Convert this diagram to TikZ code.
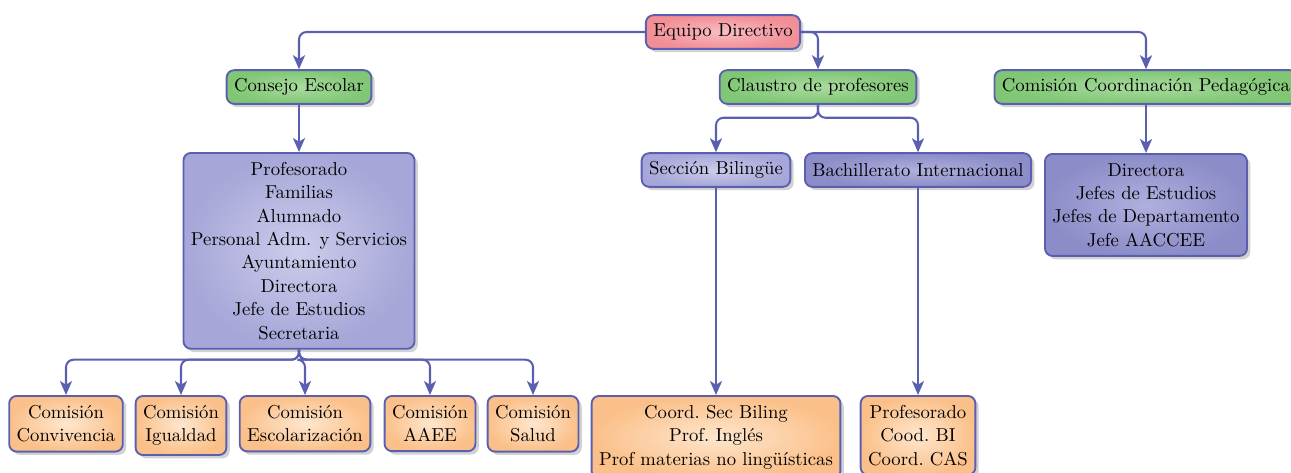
\documentclass[tikz,border=0pt]{standalone}
\usetikzlibrary{arrows.meta,shadows}
\definecolor{edgeblue}{HTML}{5B5FB0}
\definecolor{redout}{HTML}{F28E96}
\definecolor{redin}{HTML}{F9BEC2}
\definecolor{greenout}{HTML}{80C674}
\definecolor{greenin}{HTML}{A9DCA0}
\definecolor{purpout}{HTML}{A6A6D8}
\definecolor{purpin}{HTML}{CCCCEC}
\definecolor{darkout}{HTML}{8C8CC8}
\definecolor{darkin}{HTML}{B0B0DE}
\definecolor{orangeout}{HTML}{FBC089}
\definecolor{orangein}{HTML}{FEE6CE}
\begin{document}
\begin{tikzpicture}[x=0.535pt,y=-0.535pt,
  box/.style={draw=edgeblue, line width=1pt, rounded corners=4pt, inner xsep=4pt, inner ysep=5pt,
    align=center, font=\fontsize{10}{12.5}\selectfont,
    drop shadow={shadow xshift=1.8pt, shadow yshift=-1.8pt, opacity=0.25, fill=black!70}},
  oneline/.style={minimum height=18pt, inner ysep=4pt},
  redbox/.style={box, oneline, shading=radial, inner color=redin, outer color=redout},
  greenbox/.style={box, oneline, shading=radial, inner color=greenin, outer color=greenout},
  purpbox/.style={box, shading=radial, inner color=purpin, outer color=purpout},
  darkbox/.style={box, shading=radial, inner color=darkin, outer color=darkout},
  orangebox/.style={box, shading=radial, inner color=orangein, outer color=orangeout},
  conn/.style={draw=edgeblue, line width=1.1pt, rounded corners=4pt,
    -{Stealth[length=7.5pt,width=6.5pt,inset=2pt]}}]
\useasboundingbox (0,0) rectangle (1291,472);

\node[redbox] (eq) at (723,32) {Equipo Directivo};
\node[greenbox] (ce) at (299,87) {Consejo Escolar};
\node[greenbox] (cl) at (818,87) {Claustro de profesores};
\node[greenbox] (ccp) at (1146,87) {Comisión Coordinación Pedagógica};

\node[purpbox, anchor=north] (mem) at (299,152) {Profesorado\\Familias\\Alumnado\\Personal Adm. y Servicios\\Ayuntamiento\\Directora\\Jefe de Estudios\\Secretaria};
\node[purpbox, oneline] (sb) at (716,170) {Sección Bilingüe};
\node[darkbox, oneline] (bi) at (918,170) {Bachillerato Internacional};
\node[darkbox, anchor=north] (dir) at (1146,153) {Directora\\Jefes de Estudios\\Jefes de Departamento\\Jefe AACCEE};

\node[orangebox, anchor=north] (c1) at (66,395) {Comisión\\Convivencia};
\node[orangebox, anchor=north] (c2) at (181,395) {Comisión\\Igualdad};
\node[orangebox, anchor=north] (c3) at (305,395) {Comisión\\Escolarización};
\node[orangebox, anchor=north] (c4) at (430,395) {Comisión\\AAEE};
\node[orangebox, anchor=north] (c5) at (533,395) {Comisión\\Salud};
\node[orangebox, anchor=north] (sbm) at (716,395) {Coord.\ Sec Biling\\Prof.\ Inglés\\Prof materias no lingüísticas};
\node[orangebox, anchor=north] (bim) at (918,395) {Profesorado\\Cood.\ BI\\Coord.\ CAS};

\draw[conn] (eq.west) -| (ce.north);
\draw[conn] (eq.east) -| (cl.north);
\draw[conn] (eq.east) -| (ccp.north);

\draw[conn] (ce.south) -- (mem.north);
\draw[conn] (ccp.south) -- (dir.north);
\draw[conn] (cl.south) -- ++(0,13) -| (sb.north);
\draw[conn] (cl.south) -- ++(0,13) -| (bi.north);
\draw[conn] (sb.south) -- (sbm.north);
\draw[conn] (bi.south) -- (bim.north);

\foreach \c in {c1,c2,c3,c4,c5}
  \draw[conn] (mem.south) -- ++(0,10) -| (\c.north);
\end{tikzpicture}
\end{document}
